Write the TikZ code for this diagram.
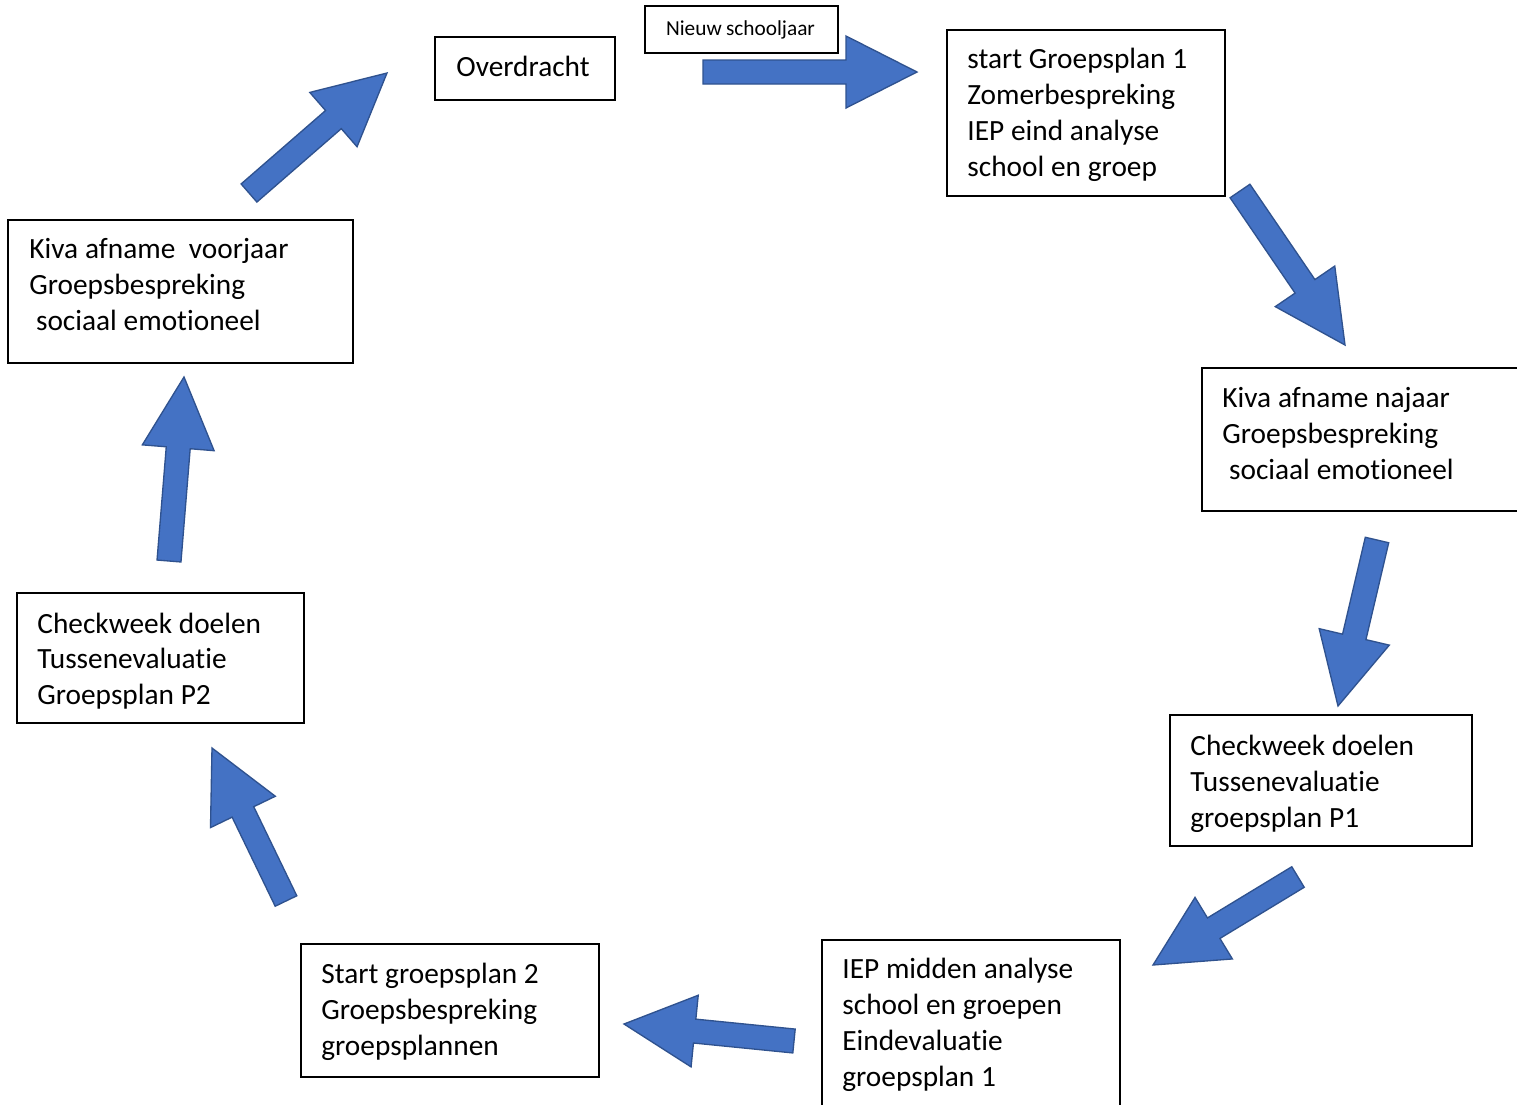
\documentclass[tikz,border=0pt]{standalone}
\usepackage{fontspec}
\setmainfont{Carlito}[Ligatures={NoCommon}]
\usetikzlibrary{calc}
\definecolor{arrfill}{HTML}{4472C4}
\definecolor{arrline}{HTML}{2F528F}
\newcommand{\boxfont}{\fontsize{22pt}{27pt}\selectfont\setlength{\spaceskip}{0.232em}}
\newcommand{\boxfontb}{\fontsize{22pt}{26.6pt}\selectfont\setlength{\spaceskip}{0.232em}}
\newcommand{\smallboxfont}{\fontsize{16pt}{19pt}\selectfont\setlength{\spaceskip}{0.2em}}
\tikzset{
  box/.style={draw=black, line width=1.3pt, fill=white, inner sep=0pt},
  txt/.style={align=left, anchor=west, inner sep=0pt, font=\boxfont},
  barrow/.style={fill=arrfill, draw=arrline, line width=1pt, line join=miter},
}
\newcommand{\blockarrow}[2]{%
  \coordinate (ab) at ($(#2)!53.25pt!(#1)$);
  \draw[barrow] ($(#1)!9pt!90:(#2)$) -- ($(ab)!9pt!90:(#2)$) -- ($(ab)!27pt!90:(#2)$) -- (#2)
    -- ($(ab)!27pt!-90:(#2)$) -- ($(ab)!9pt!-90:(#2)$) -- ($(#1)!9pt!-90:(#2)$) -- cycle;}
\begin{document}
\begin{tikzpicture}[x=0.75pt,y=-0.75pt]
\useasboundingbox (0,0) rectangle (1517,1104);
\clip (0,0) rectangle (1517,1104);
\fill[white] (0,0) rectangle (1517,1104);

% boxes
\node[box, minimum width=135pt, minimum height=47.25pt] (over) at (525,68.5) {};
\node[txt, anchor=center, align=center] (overt) at ($(over)+(-2,-2)$) {Overdracht};
\node[box, line width=1pt, minimum width=144.75pt, minimum height=35.25pt] (nieuw) at (741.5,29.5) {};
\node[txt, anchor=center, align=center, font=\smallboxfont] (nieuwt) at ($(nieuw)+(-1,0.5)$) {Nieuw schooljaar};

\node[box, minimum width=208.5pt, minimum height=124.5pt] (gp1) at (1086,113) {};
\node[txt] (gp1t) at ($(gp1.west)+(21,2)$)
  {start Groepsplan 1\\Zomerbespreking\\IEP eind analyse\\school en groep};

\node[box, minimum width=246pt, minimum height=107.25pt] (kivan) at (1366,439.5) {};
\node[txt] (kivant) at ($(kivan.west)+(21,-6)$)
  {Kiva afname najaar\\Groepsbespreking\\\hspace*{5pt}sociaal emotioneel};

\node[box, minimum width=226.5pt, minimum height=98.25pt] (cw1) at (1321,780.5) {};
\node[txt] (cw1t) at ($(cw1.west)+(21,3)$)
  {Checkweek doelen\\Tussenevaluatie\\groepsplan P1};

\node[box, minimum width=223.5pt, minimum height=126pt] (iep) at (971,1024) {};
\node[txt] (iept) at ($(iep.west)+(21,1)$)
  {IEP midden analyse\\school en groepen\\Eindevaluatie\\groepsplan 1};

\node[box, minimum width=223.5pt, minimum height=99.75pt] (gp2) at (450,1010.5) {};
\node[txt] (gp2t) at ($(gp2.west)+(21,1)$)
  {Start groepsplan 2\\Groepsbespreking\\groepsplannen};

\node[box, minimum width=215.25pt, minimum height=97.5pt] (cw2) at (160.5,658) {};
\node[txt, font=\boxfontb] (cw2t) at ($(cw2.west)+(21,3)$)
  {Checkweek doelen\\Tussenevaluatie\\Groepsplan P2};

\node[box, minimum width=258.75pt, minimum height=107.25pt] (kivav) at (180.5,291.5) {};
\node[txt] (kivavt) at ($(kivav.west)+(22,-7)$)
  {Kiva afname\ \ voorjaar\\Groepsbespreking\\\hspace*{5pt}sociaal emotioneel};

% arrow end points
\coordinate (t1) at (703,72);   \coordinate (p1) at (917,72);
\coordinate (t2) at (1240,191); \coordinate (p2) at (1345,345);
\coordinate (t3) at (1377,540); \coordinate (p3) at (1338,706);
\coordinate (t4) at (1298,877); \coordinate (p4) at (1153,965);
\coordinate (t5) at (794,1041); \coordinate (p5) at (624,1024);
\coordinate (t6) at (286,901);  \coordinate (p6) at (212,748);
\coordinate (t7) at (169,561);  \coordinate (p7) at (184,377);
\coordinate (t8) at (249,193);  \coordinate (p8) at (387,73);

\blockarrow{t1}{p1}
\blockarrow{t2}{p2}
\blockarrow{t3}{p3}
\blockarrow{t4}{p4}
\blockarrow{t5}{p5}
\blockarrow{t6}{p6}
\blockarrow{t7}{p7}
\blockarrow{t8}{p8}
\end{tikzpicture}
\end{document}
